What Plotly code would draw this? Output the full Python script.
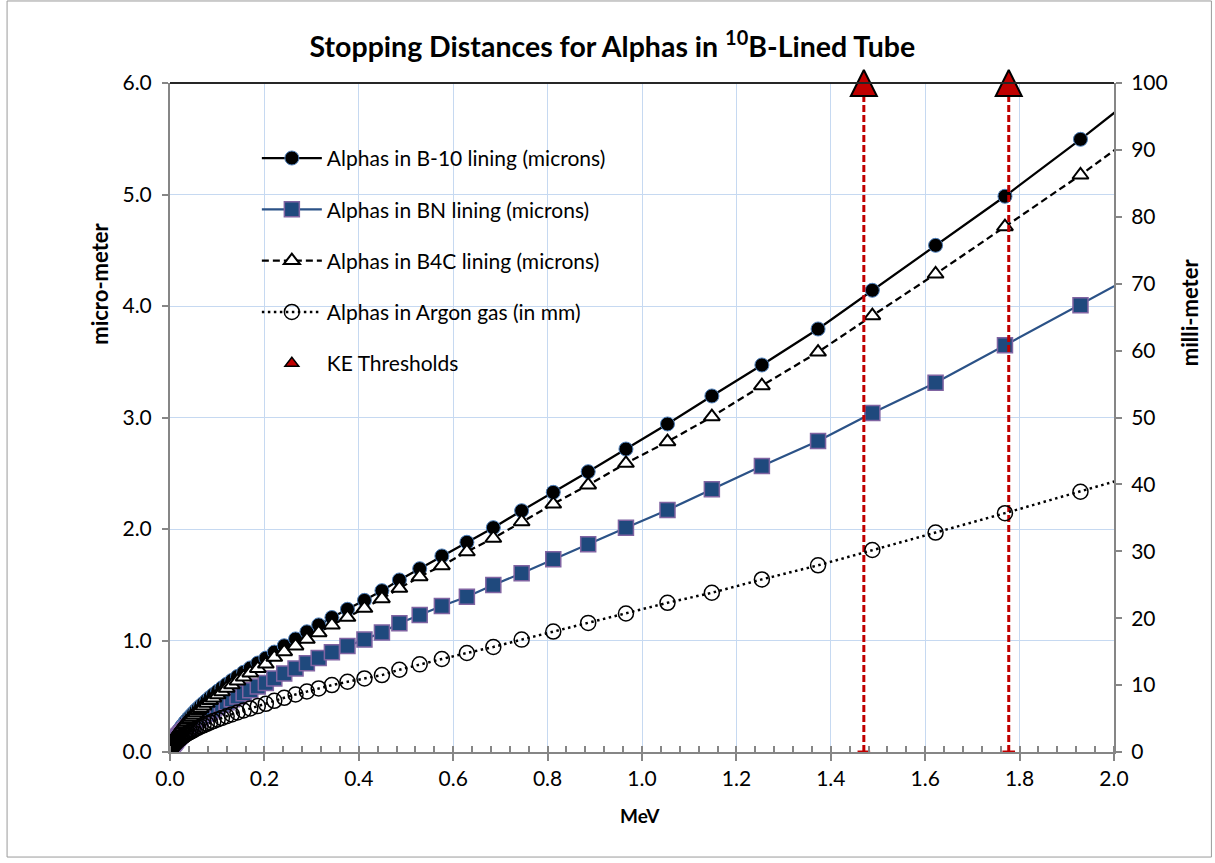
import plotly.graph_objects as go

# Alpha kinetic energy (MeV) at each tabulated point
energy_mev = [
    0.0005, 0.001, 0.0015, 0.002, 0.003, 0.004, 0.005, 0.006, 0.007, 0.008, 0.009,
    0.010, 0.011, 0.012, 0.013, 0.015, 0.016, 0.018, 0.019, 0.021, 0.023,
    0.025, 0.027, 0.030, 0.032, 0.035, 0.039, 0.042, 0.046, 0.050, 0.055,
    0.060, 0.065, 0.071, 0.078, 0.085, 0.092, 0.101, 0.110, 0.120, 0.131,
    0.143, 0.156, 0.170, 0.186, 0.203, 0.221, 0.242, 0.266, 0.290, 0.315,
    0.343, 0.376, 0.412, 0.449, 0.486, 0.529, 0.576, 0.629, 0.685, 0.745,
    0.812, 0.886, 0.966, 1.054, 1.148, 1.254, 1.373, 1.488, 1.622, 1.769,
    1.929, 2.102,
]

# Stopping distance in a B-10 lining (microns)
b10_um = [
    0.029, 0.041, 0.050, 0.058, 0.071, 0.082, 0.092, 0.101, 0.109, 0.116, 0.123,
    0.130, 0.138, 0.146, 0.153, 0.167, 0.174, 0.187, 0.194, 0.206, 0.218,
    0.230, 0.241, 0.257, 0.268, 0.283, 0.303, 0.317, 0.335, 0.353, 0.375,
    0.396, 0.416, 0.439, 0.465, 0.491, 0.516, 0.546, 0.576, 0.608, 0.642,
    0.678, 0.715, 0.754, 0.798, 0.842, 0.896, 0.953, 1.014, 1.078, 1.140,
    1.206, 1.280, 1.360, 1.447, 1.543, 1.644, 1.758, 1.881, 2.012, 2.164,
    2.329, 2.514, 2.717, 2.942, 3.193, 3.471, 3.794, 4.141, 4.544, 4.984,
    5.495, 6.070,
]

# Stopping distance in a BN lining (microns)
bn_um = [
    0.021, 0.030, 0.037, 0.043, 0.052, 0.060, 0.068, 0.074, 0.080, 0.085, 0.090,
    0.096, 0.101, 0.107, 0.112, 0.123, 0.128, 0.137, 0.143, 0.151, 0.160,
    0.169, 0.177, 0.189, 0.197, 0.208, 0.223, 0.233, 0.246, 0.259, 0.276,
    0.291, 0.306, 0.323, 0.342, 0.361, 0.379, 0.401, 0.423, 0.447, 0.472,
    0.498, 0.526, 0.554, 0.587, 0.618, 0.660, 0.704, 0.749, 0.795, 0.843,
    0.895, 0.950, 1.008, 1.072, 1.154, 1.229, 1.309, 1.393, 1.498, 1.603,
    1.728, 1.863, 2.012, 2.170, 2.356, 2.565, 2.789, 3.040, 3.312, 3.648,
    4.006, 4.410,
]

# Stopping distance in a B4C lining (microns)
b4c_um = [
    0.027, 0.039, 0.047, 0.055, 0.067, 0.077, 0.086, 0.095, 0.102, 0.109, 0.116,
    0.122, 0.130, 0.137, 0.144, 0.157, 0.164, 0.176, 0.182, 0.194, 0.205,
    0.216, 0.227, 0.242, 0.252, 0.266, 0.285, 0.298, 0.315, 0.332, 0.353,
    0.372, 0.391, 0.413, 0.437, 0.462, 0.485, 0.513, 0.541, 0.572, 0.603,
    0.637, 0.672, 0.709, 0.750, 0.789, 0.849, 0.900, 0.951, 1.011, 1.070,
    1.139, 1.208, 1.289, 1.375, 1.468, 1.572, 1.671, 1.796, 1.917, 2.065,
    2.224, 2.395, 2.589, 2.783, 3.007, 3.285, 3.587, 3.913, 4.287, 4.711,
    5.175, 5.710,
]

# Stopping distance in argon fill gas (mm)
argon_mm = [
    0.28, 0.40, 0.48, 0.56, 0.68, 0.79, 0.88, 0.97, 1.05, 1.12, 1.19,
    1.25, 1.33, 1.40, 1.47, 1.61, 1.67, 1.80, 1.86, 1.98, 2.10,
    2.21, 2.31, 2.47, 2.56, 2.69, 2.86, 2.98, 3.13, 3.28, 3.47,
    3.64, 3.81, 3.99, 4.21, 4.42, 4.62, 4.86, 5.10, 5.35, 5.62,
    5.90, 6.20, 6.51, 6.86, 7.20, 7.65, 8.10, 8.60, 9.05, 9.50,
    10.0, 10.5, 11.0, 11.5, 12.3, 13.1, 13.9, 14.8, 15.7, 16.8,
    18.0, 19.3, 20.7, 22.3, 23.8, 25.8, 27.9, 30.2, 32.8, 35.7,
    38.9, 42.5,
]

# Alpha energies from the 10B(n,alpha) reaction, flagged at the top of the axis
ke_threshold_mev = [1.47, 1.777]
ke_marker_um = [6.0, 6.0]
ke_line_base_um = [0.0, 0.0]

FONT = "Lato"
GRID = "#C6D9F1"
AXIS = "#868686"
RED = "#C00000"

fig = go.Figure()

fig.add_trace(go.Scatter(
    x=energy_mev, y=b10_um, name="Alphas in B-10 lining (microns)",
    mode="lines+markers", legendgroup="b10",
    line=dict(color="black", width=2.25),
    marker=dict(symbol="circle", size=14, color="black",
                line=dict(color="#4F81BD", width=1)),
))

fig.add_trace(go.Scatter(
    x=energy_mev, y=bn_um, name="Alphas in BN lining (microns)",
    mode="lines+markers", legendgroup="bn",
    line=dict(color="#2B5287", width=2.25),
    marker=dict(symbol="square", size=15, color="#1F497D",
                line=dict(color="#8064A2", width=1.5)),
))

fig.add_trace(go.Scatter(
    x=energy_mev, y=b4c_um, name="Alphas in B4C lining (microns)",
    mode="lines+markers", legendgroup="b4c",
    line=dict(color="black", width=2.25, dash="7px,4px"),
    marker=dict(symbol="triangle-up", size=14, color="white",
                line=dict(color="black", width=2)),
))

fig.add_trace(go.Scatter(
    x=energy_mev, y=argon_mm, yaxis="y2", name="Alphas in Argon gas (in mm)",
    mode="lines+markers", legendgroup="argon",
    line=dict(color="black", width=2.5, dash="2.5px,3.5px"),
    marker=dict(symbol="circle-open", size=15, color="black",
                line=dict(color="black", width=1.5)),
))

# dashed drop lines under each threshold marker
for t, y0, y1 in zip(ke_threshold_mev, ke_line_base_um, ke_marker_um):
    fig.add_trace(go.Scatter(
        x=[t, t], y=[y0, y1], mode="lines", showlegend=False, hoverinfo="skip",
        line=dict(color=RED, width=3, dash="7px,3px"),
    ))

# end caps at the foot of the drop lines
fig.add_trace(go.Scatter(
    x=ke_threshold_mev, y=ke_line_base_um, mode="markers", showlegend=False,
    hoverinfo="skip", cliponaxis=False,
    marker=dict(symbol="line-ew", size=9, color=RED,
                line=dict(color=RED, width=3)),
))

# threshold markers: a square-proportioned triangle centred on the top edge
fig.add_trace(go.Scatter(
    x=ke_threshold_mev, y=ke_marker_um, name="KE Thresholds",
    mode="markers", legendgroup="ke", showlegend=False, cliponaxis=False,
    marker=dict(symbol="arrow-down", angle=180, standoff=13, size=26,
                color=RED, line=dict(color="black", width=2)),
))

# legend entry for the threshold markers
fig.add_trace(go.Scatter(
    x=[None], y=[None], name="KE Thresholds", mode="markers", legendgroup="ke",
    marker=dict(symbol="triangle-up", size=12, color=RED,
                line=dict(color="black", width=1.5)),
))

tick_font = dict(family=FONT, size=21, color="black")
axis_title_font = dict(family=FONT, size=22, color="black")

fig.update_layout(
    width=1215, height=863,
    margin=dict(l=170, r=101, t=83, b=111),
    paper_bgcolor="white", plot_bgcolor="white",
    title=dict(
        text="<b>Stopping Distances for Alphas in <sup>10</sup>B-Lined Tube</b>",
        x=0.504, xanchor="center", y=0.945, yanchor="middle",
        font=dict(family=FONT, size=28.5, color="black"),
    ),
    xaxis=dict(
        range=[0, 2], tick0=0, dtick=0.2, tickformat=".1f",
        showgrid=True, gridcolor=GRID, gridwidth=1, zeroline=False,
        showline=True, linecolor=AXIS, linewidth=2,
        ticks="outside", ticklen=7, tickwidth=1.5, tickcolor=AXIS,
        minor=dict(ticks="inside", dtick=0.04, ticklen=6, tickwidth=1.5,
                   tickcolor=AXIS, showgrid=False),
        tickfont=tick_font,
    ),
    yaxis=dict(
        range=[0, 6], tick0=0, dtick=1, tickformat=".1f",
        showgrid=True, gridcolor=GRID, gridwidth=1, zeroline=False,
        showline=True, linecolor=AXIS, linewidth=2,
        ticks="outside", ticklen=6, tickwidth=1.5, tickcolor=AXIS,
        ticklabelstandoff=6, tickfont=tick_font,
    ),
    yaxis2=dict(
        overlaying="y", side="right", range=[0, 100], tick0=0, dtick=10,
        showgrid=False, zeroline=False,
        showline=True, linecolor=AXIS, linewidth=2,
        ticks="outside", ticklen=6, tickwidth=1.5, tickcolor=AXIS,
        ticklabelstandoff=5, tickfont=tick_font,
    ),
    legend=dict(
        x=0.092, y=0.918, xanchor="left", yanchor="top",
        bgcolor="rgba(0,0,0,0)", borderwidth=0,
        font=dict(family=FONT, size=21, color="black"),
        tracegroupgap=21, itemwidth=60, itemsizing="trace",
    ),
    annotations=[
        dict(text="<b>micro-meter</b>", xref="paper", yref="paper",
             x=-0.0741, y=0.70, xanchor="center", yanchor="middle",
             textangle=-90, showarrow=False, font=axis_title_font),
        dict(text="<b>milli-meter</b>", xref="paper", yref="paper",
             x=1.0799, y=0.658, xanchor="center", yanchor="middle",
             textangle=-90, showarrow=False, font=axis_title_font),
        dict(text="<b>MeV</b>", xref="paper", yref="paper",
             x=0.4976, y=-0.0942, xanchor="center", yanchor="middle",
             showarrow=False, font=dict(family=FONT, size=19, color="black")),
    ],
    shapes=[
        # heavy top edge of the plotting area
        dict(type="line", xref="paper", yref="paper", x0=0, x1=1, y0=1, y1=1,
             line=dict(color="#262626", width=2), layer="above"),
        # thin outline around the whole chart
        dict(type="rect", xref="paper", yref="paper",
             x0=-0.1726, x1=1.1032, y0=-0.157, y1=1.1226,
             line=dict(color="#9A9A9A", width=1), fillcolor="rgba(0,0,0,0)"),
    ],
    showlegend=True,
)

fig.write_html("out.html")
